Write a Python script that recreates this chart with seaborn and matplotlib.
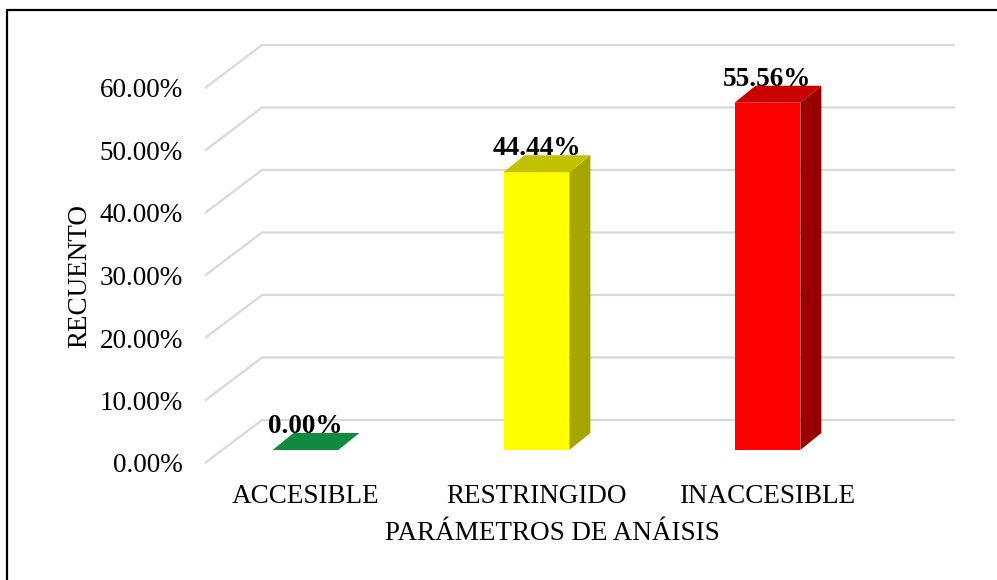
import numpy as np
import pandas as pd
import matplotlib
matplotlib.use("Agg")
import matplotlib.pyplot as plt
import matplotlib.transforms as mtransforms
from matplotlib.patches import Polygon
from matplotlib.lines import Line2D
import seaborn as sns


CATEGORIES = ["ACCESIBLE", "RESTRINGIDO", "INACCESIBLE"]
VALUES = [0.0, 44.44, 55.56]
LABELS = ["0.00%", "44.44%", "55.56%"]
YTICKS = [0, 10, 20, 30, 40, 50, 60]

FRONT_COLORS = ["#0E8A3C", "#FFFF00", "#FF0000"]
SIDE_COLORS = ["#0B6E30", "#A6A600", "#990000"]
TOP_COLORS = ["#108A3E", "#C2C200", "#C80000"]

# "3D" geometry in data units
WALL_DX, WALL_DY = 0.2468, 6.88   # depth of the back wall
BAR_DX, BAR_DY = 0.091, 2.72      # thickness of the bars
BASE = 2.08                       # bars sit a bit behind the front plane
BAR_W = 0.285
XLIM = (-0.435, 2.812)
YLIM = (-2.0, 67.52)
FS = 19.5


def main():
    sns.set_style("white")
    plt.rcParams["font.family"] = ["Liberation Serif", "DejaVu Serif"]
    plt.rcParams["text.color"] = "black"
    plt.rcParams["axes.labelcolor"] = "black"
    plt.rcParams["xtick.color"] = "black"
    plt.rcParams["ytick.color"] = "black"

    df = pd.DataFrame({"cat": CATEGORIES, "val": VALUES})

    fig = plt.figure(figsize=(9.97, 5.8), dpi=100)
    ax = fig.add_axes([205 / 997, 104.5 / 580, 750 / 997, 434.5 / 580])

    sns.barplot(
        data=df, x="cat", y="val", hue="cat", order=CATEGORIES,
        palette=FRONT_COLORS, legend=False, width=BAR_W,
        saturation=1, linewidth=0, ax=ax, zorder=3,
    )
    shift = mtransforms.Affine2D().translate(0, BASE) + ax.transData
    for p in ax.patches:
        p.set_transform(shift)

    ax.set_xlim(*XLIM)
    ax.set_ylim(*YLIM)

    # perspective gridlines (side wall + back wall)
    x0 = XLIM[0]
    for v in YTICKS:
        ax.plot([x0, x0 + WALL_DX, XLIM[1]], [v, v + WALL_DY, v + WALL_DY],
                color="#d9d9d9", lw=1.6, zorder=0, solid_joinstyle="miter")

    # side and top faces of the bars
    for i, v in enumerate(VALUES):
        xl, xr = i - BAR_W / 2, i + BAR_W / 2
        b = BASE
        if v > 0:
            side = [(xr, b), (xr + BAR_DX, b + BAR_DY),
                    (xr + BAR_DX, b + v + BAR_DY), (xr, b + v)]
            ax.add_patch(Polygon(side, closed=True, color=SIDE_COLORS[i],
                                 lw=0, zorder=3))
        top = [(xl, b + v), (xr, b + v), (xr + BAR_DX, b + v + BAR_DY),
               (xl + BAR_DX, b + v + BAR_DY)]
        ax.add_patch(Polygon(top, closed=True, color=TOP_COLORS[i],
                             lw=0, zorder=3))
        ax.text(i, b + v + BAR_DY, LABELS[i], ha="center", va="baseline",
                fontsize=FS, fontweight="bold", color="black", zorder=5)

    ax.set_yticks(YTICKS)
    ax.set_yticklabels([f"{t:.2f}%" for t in YTICKS], fontsize=FS)
    ax.tick_params(axis="y", length=0, pad=16)
    ax.tick_params(axis="x", length=0, pad=6, labelsize=FS)

    for s in ax.spines.values():
        s.set_visible(False)

    ax.set_ylabel("RECUENTO", fontsize=FS)
    ax.yaxis.set_label_coords(-0.15, 0.459)
    ax.set_xlabel("PARÁMETROS DE ANÁISIS", fontsize=FS)
    ax.xaxis.set_label_coords(0.463, -0.105)

    # outer frame (only top and left visible in the crop)
    fig.add_artist(Line2D([7 / 997, 7 / 997], [0, 570 / 580],
                          color="black", lw=1.6, transform=fig.transFigure))
    fig.add_artist(Line2D([7 / 997, 1], [570 / 580, 570 / 580],
                          color="black", lw=1.6, transform=fig.transFigure))

    fig.savefig("out.png", dpi=100, facecolor="white")


main()
